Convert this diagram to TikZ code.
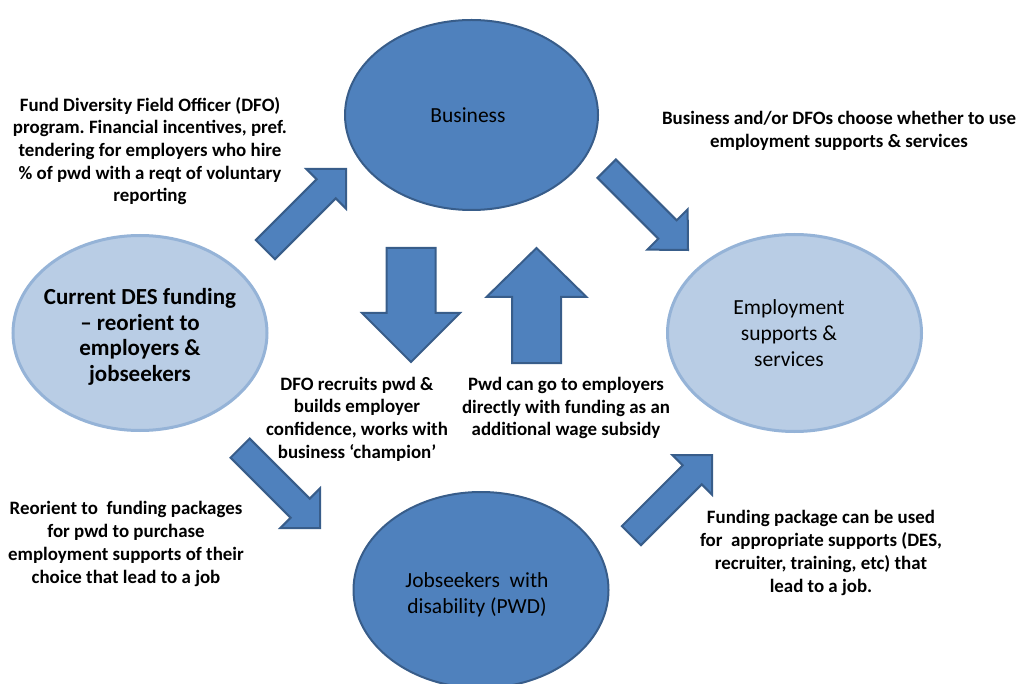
\documentclass[tikz,border=0pt]{standalone}
\usepackage{fontspec}
\setmainfont{Carlito}
\usetikzlibrary{shapes.geometric}
\frenchspacing
\definecolor{darkfill}{HTML}{4F81BD}
\definecolor{darkline}{HTML}{385D8A}
\definecolor{lightfill}{HTML}{B9CDE5}
\definecolor{lightline}{HTML}{95B3D7}
\tikzset{
  darkell/.style={ellipse, fill=darkfill, draw=darkline, line width=2pt, inner sep=0pt},
  lightell/.style={ellipse, fill=lightfill, draw=lightline, line width=3pt, inner sep=0pt},
  elltext/.style={align=center, inner sep=0pt, font=\fontsize{21.5}{26}\selectfont},
  blockarr/.style={fill=darkfill, draw=darkline, line width=2pt, line join=miter},
  note/.style={align=center, inner sep=0pt, font=\bfseries\fontsize{18.9}{22.7}\selectfont}
}
% name, tip x, tip y, angle, length, shaft width, head width, head length
\newcommand\blockarrow[8]{%
  \begin{scope}[shift={(#2,#3)}, rotate=#4]
    \coordinate (#1) at (0,0);
    \draw[blockarr] (0,0) -- (-#8,#7/2) -- (-#8,#6/2) -- (-#5,#6/2) -- (-#5,-#6/2)
      -- (-#8,-#6/2) -- (-#8,-#7/2) -- cycle;
  \end{scope}}
\begin{document}
\begin{tikzpicture}[x=1pt,y=1pt]
\useasboundingbox (0,0) rectangle (1019,-684);
\clip (0,0) rectangle (1019,-684);

% ellipses
\node[darkell, minimum width=253pt, minimum height=190pt] (business) at (471.5,-115) {};
\node[elltext] (businesstext) at (468,-115) {Business};
\node[lightell, minimum width=254pt, minimum height=195pt] (des) at (140,-333) {};
\node[elltext, font=\bfseries\fontsize{23}{25.5}\selectfont] (destext) at (140,-337)
  {Current DES funding\\– reorient to\\employers \&\\jobseekers};
\node[lightell, minimum width=254pt, minimum height=197pt] (ess) at (794.5,-333) {};
\node[elltext] (esstext) at (789,-333) {Employment\\supports \&\\services};
\node[darkell, minimum width=255pt, minimum height=196pt] (pwd) at (481,-590) {};
\node[elltext] (pwdtext) at (477,-595) {Jobseekers\ \ with\\disability (PWD)};

% block arrows
\blockarrow{aUL}{346}{-169}{45}{114}{27}{56}{28}
\blockarrow{aUR}{688}{-250}{-45}{115}{26}{57}{29}
\blockarrow{aLL}{320}{-528}{-45}{113}{27}{56}{28}
\blockarrow{aLR}{712}{-455}{45}{114}{27}{56}{28}
\blockarrow{aDown}{411}{-362}{-90}{114}{49}{98}{49}
\blockarrow{aUp}{536.5}{-248}{90}{115}{49}{100}{49}

% notes
\node[note] (n1) at (150,-151)
  {Fund Diversity Field Officer (DFO)\\program. Financial incentives, pref.\\tendering for employers who hire\\\% of pwd with a reqt of voluntary\\reporting};
\node[note] (n2) at (839,-131)
  {Business and/or DFOs choose whether to use\\employment supports \& services};
\node[note] (n3) at (357,-419)
  {DFO recruits pwd \&\\builds employer\\confidence, works with\\business ‘champion’};
\node[note] (n4) at (566,-408)
  {Pwd can go to employers\\directly with funding as an\\additional wage subsidy};
\node[note] (n5) at (126,-544)
  {Reorient to\ \ funding packages\\for pwd to purchase\\employment supports of their\\choice that lead to a job};
\node[note] (n6) at (821,-553)
  {Funding package can be used\\for\ \ appropriate supports (DES,\\recruiter, training, etc) that\\lead to a job.};
\end{tikzpicture}
\end{document}
